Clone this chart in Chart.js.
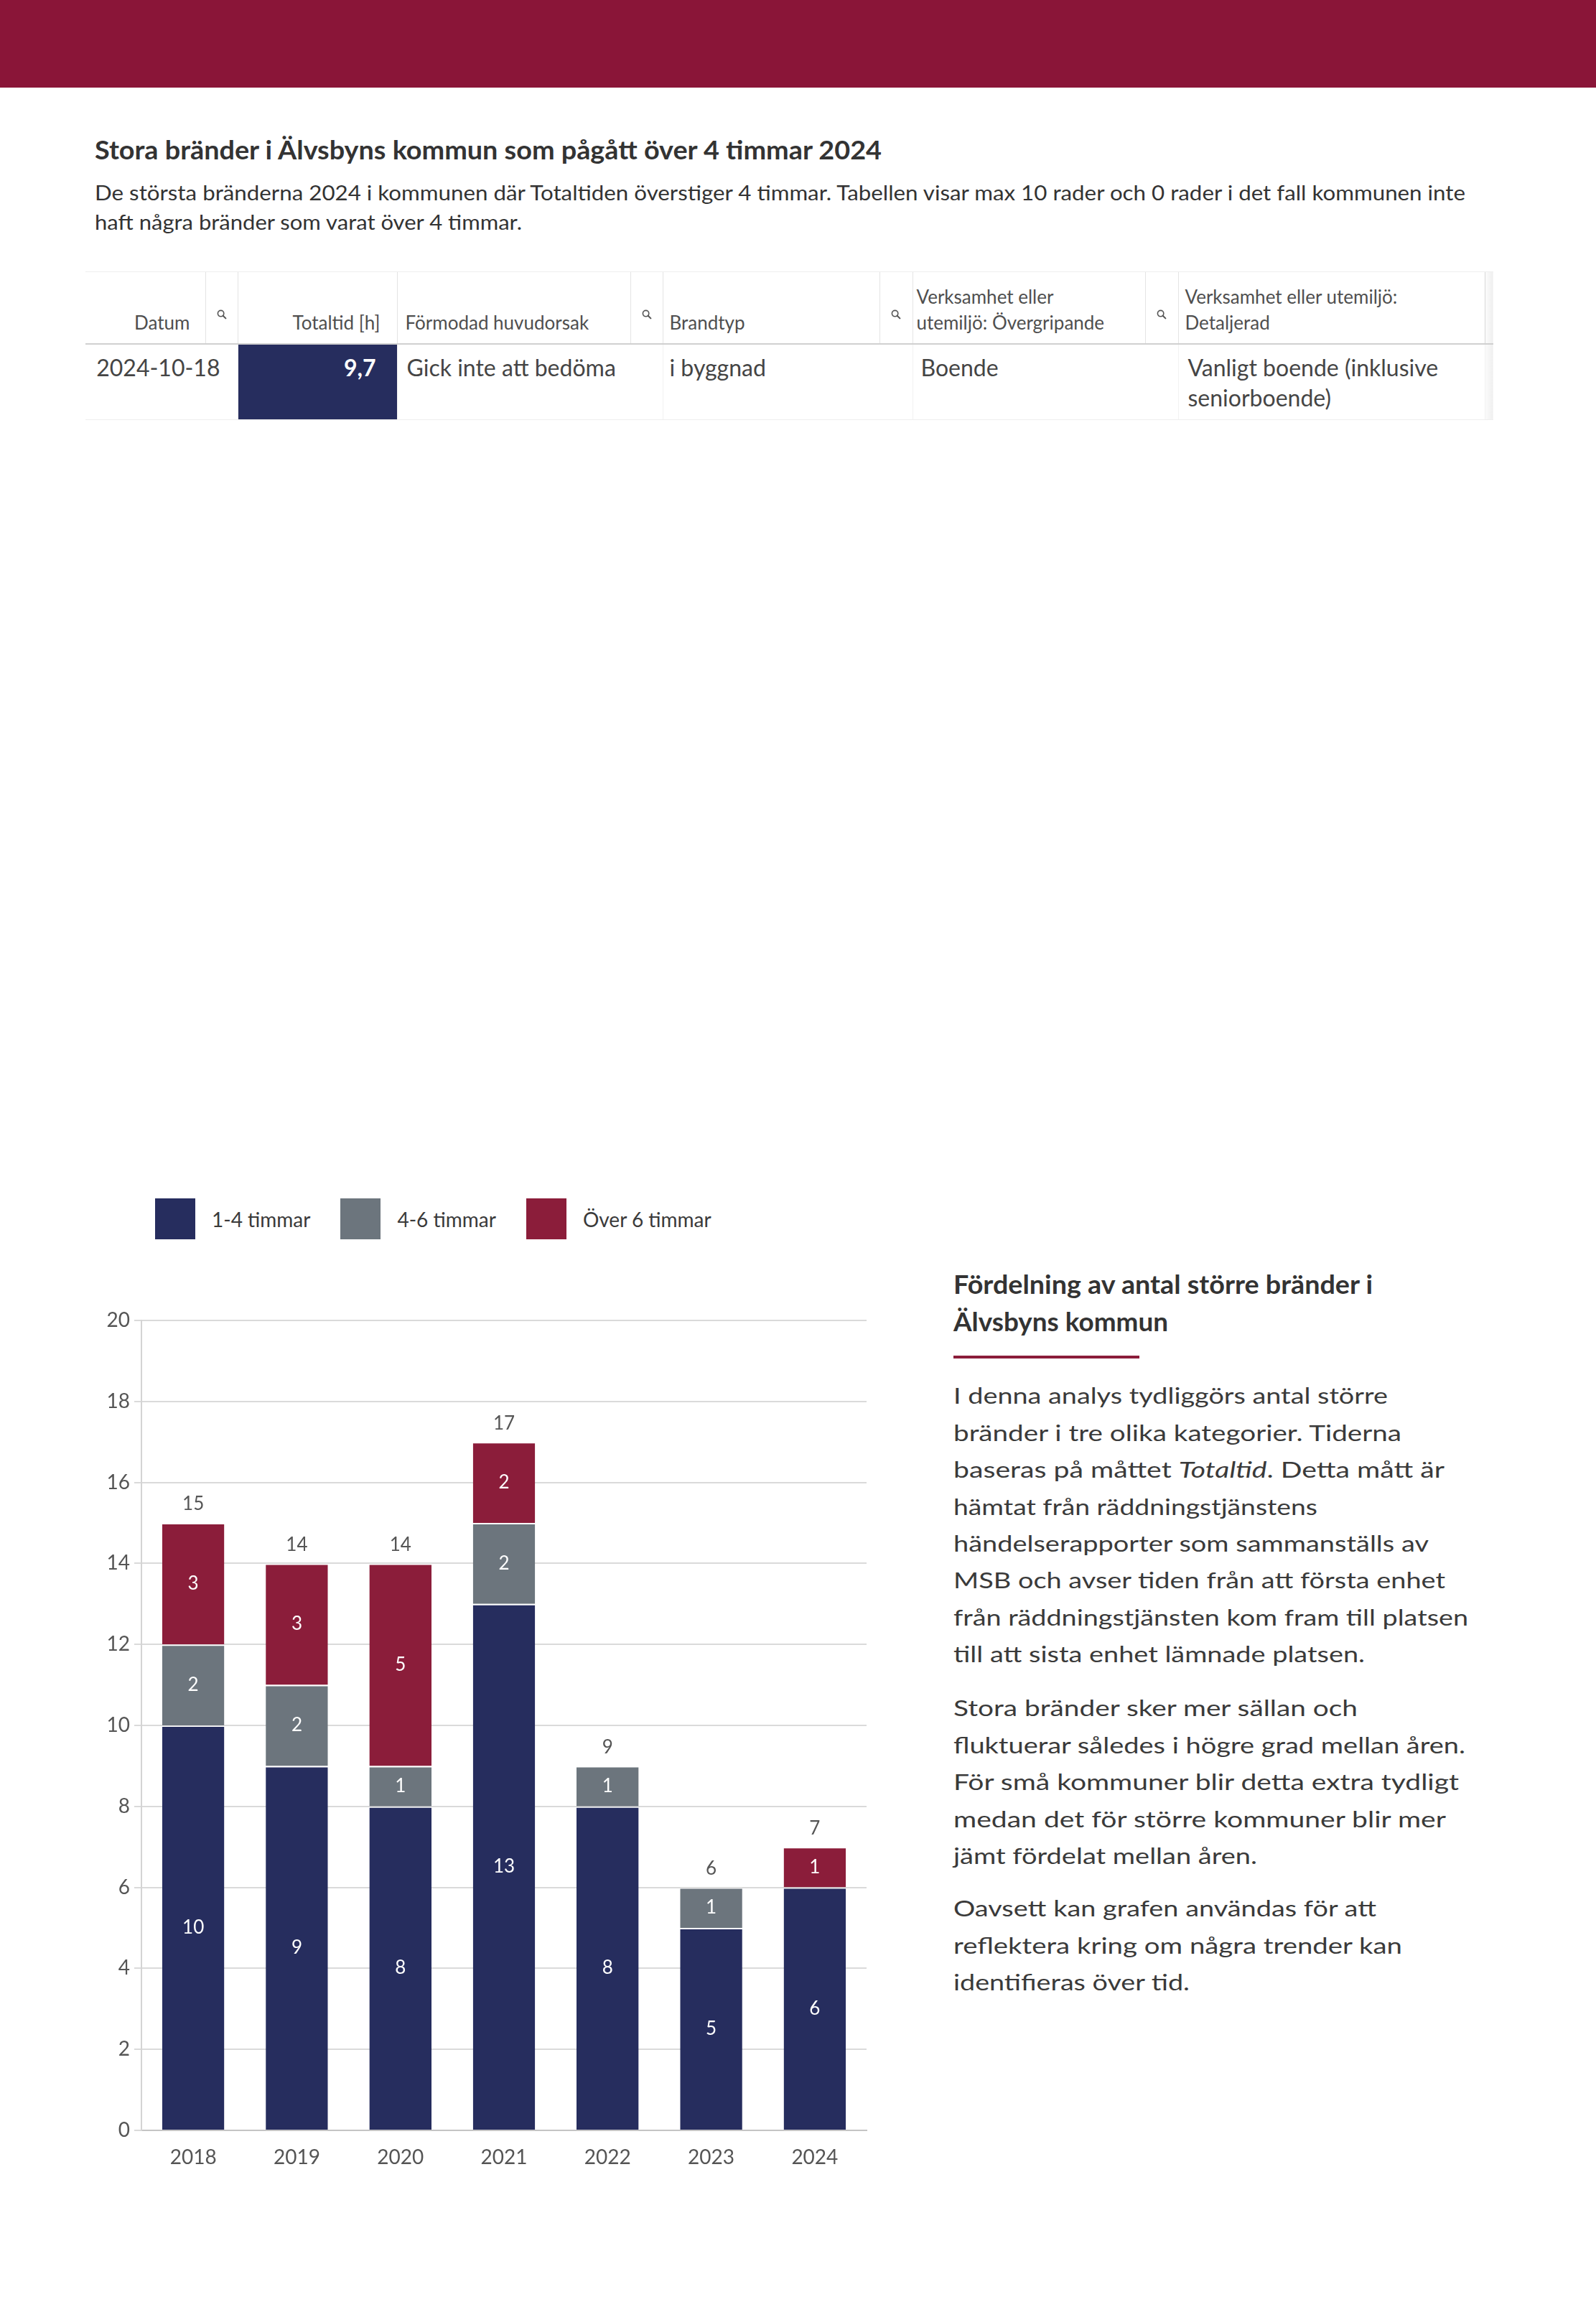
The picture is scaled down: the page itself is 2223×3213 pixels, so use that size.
<!DOCTYPE html>
<html lang="sv">
<head>
<meta charset="utf-8">
<title>Stora bränder i Älvsbyns kommun</title>
<script src="https://cdn.jsdelivr.net/npm/chart.js@4.4.1/dist/chart.umd.min.js"></script>
<style>
  html, body { margin: 0; padding: 0; background: #fff; }
  body {
    width: 2223px; height: 3213px; position: relative; overflow: hidden;
    font-family: Lato, 'Noto Sans', sans-serif; color: #3a3a3a;
  }
  .band { position: absolute; left: 0; top: 0; width: 2223px; height: 122px; background: #8a1538; }
  .ln { position: absolute; white-space: nowrap; line-height: 1.2; transform-origin: 0 0; }

  /* ── Table ─────────────────────────────── */
  .tbl {
    position: absolute; left: 119px; top: 378px; width: 1961px;
    border-collapse: collapse; table-layout: fixed;
  }
  .tbl th, .tbl td { box-sizing: border-box; }
  .tbl th {
    height: 100px; padding: 0 9px 11px; font-weight: 400; font-size: 26px; line-height: 36px;
    color: #4f4f4f; text-align: left; vertical-align: bottom;
    border-top: 1px solid #eee; border-left: 1px solid #e4e4e4; border-bottom: 2px solid #d0d0d0;
  }
  .tbl th:first-child, .tbl td:first-child { border-left: none; }
  .tbl th.ic { vertical-align: top; padding: 52px 0 0; text-align: center; line-height: 14px; }
  .tbl td {
    height: 106px; padding: 11px 13px 0; font-size: 32px; line-height: 42px; color: #454545;
    vertical-align: top; border-left: 1px solid #f2f2f2; border-bottom: 1px solid #eee;
  }
  .tbl .r { text-align: right; }
  .tbl td.val { background: #262d5e; color: #fff; font-weight: 700; padding-right: 29px; }
  .tbl .sb { padding: 0; background: linear-gradient(to right, #fbfbfb, #efefef); }
  .tbl th.sb { border-left: 1px solid #d8d8d8; }

  /* ── Legend + chart ────────────────────── */
  #legend { position: absolute; left: 216px; top: 1669px; display: flex; align-items: center; }
  .lg-item { display: flex; align-items: center; margin-right: 42px; }
  .lg-box { width: 56px; height: 57px; margin-right: 23px; }
  .lg-txt { font-size: 28px; color: #3a3a3a; white-space: nowrap; }
  #chartbox { position: absolute; left: 100px; top: 1800px; width: 1130px; height: 1240px; }

  .rule { position: absolute; left: 1328px; top: 1888px; width: 259px; height: 4px; background: #8b1d3a; }
</style>
</head>
<body>
<div class="band"></div>

<table class="tbl" id="tbl">
  <colgroup>
    <col style="width:167px"><col style="width:45px"><col style="width:222px"><col style="width:325px">
    <col style="width:45px"><col style="width:302px"><col style="width:46px"><col style="width:324px">
    <col style="width:46px"><col style="width:427px"><col style="width:12px">
  </colgroup>
  <thead>
    <tr>
      <th class="r" style="padding-right:21px">Datum</th><th class="ic"></th>
      <th class="r" style="padding-right:23px">Totaltid [h]</th>
      <th style="padding-left:11px">Förmodad huvudorsak</th><th class="ic"></th>
      <th>Brandtyp</th><th class="ic"></th>
      <th style="padding-left:5px">Verksamhet eller<br>utemiljö: Övergripande</th><th class="ic"></th>
      <th>Verksamhet eller utemiljö:<br>Detaljerad</th>
      <th class="sb"></th>
    </tr>
  </thead>
  <tbody>
    <tr>
      <td colspan="2" class="r" style="padding-right:24px">2024-10-18</td>
      <td class="r val">9,7</td>
      <td colspan="2">Gick inte att bedöma</td>
      <td colspan="2" style="padding-left:9px">i byggnad</td>
      <td colspan="2" style="padding-left:11px">Boende</td>
      <td>Vanligt boende (inklusive<br>seniorboende)</td>
      <td class="sb"></td>
    </tr>
  </tbody>
</table>

<div id="legend"></div>
<div id="chartbox"><canvas id="chart-brander"></canvas></div>
<div class="rule"></div>

<script>
/* ── Data ─────────────────────────────────────────────── */
const YEARS         = ['2018', '2019', '2020', '2021', '2022', '2023', '2024'];
const H_1_4         = [10, 9, 8, 13, 8, 5, 6];
const H_4_6         = [2, 2, 1, 2, 1, 1, 0];
const H_OVER_6      = [3, 3, 5, 2, 0, 0, 1];
const SERIES_LABELS = ['1-4 timmar', '4-6 timmar', 'Över 6 timmar'];
const SERIES_COLORS = ['#262d5e', '#6c757d', '#8b1d3a'];
const Y_MIN = 0, Y_MAX = 20, Y_STEP = 2;

/* ── Static texts (html, x, baseline, size, weight, target width) ── */
const HEAD_LINES = [
  ['Stora bränder i Älvsbyns kommun som pågått över 4 timmar 2024', 132, 223, 36, 700, 1096],
  ['De största bränderna 2024 i kommunen där Totaltiden överstiger 4 timmar. Tabellen visar max 10 rader och 0 rader i det fall kommunen inte', 132, 280, 28, 400, 1909],
  ['haft några bränder som varat över 4 timmar.', 132, 321, 28, 400, 595],
  ['Fördelning av antal större bränder i', 1328, 1803, 37, 700, 584],
  ['Älvsbyns kommun', 1328, 1855, 37, 700, 299],
];

const BODY_STEP = 51.4;
const BODY_PARAS = [
  { start: 1956, lines: [
    ['I denna analys tydliggörs antal större', 605],
    ['bränder i tre olika kategorier. Tiderna', 624],
    ['baseras på måttet <i>Totaltid</i>. Detta mått är', 684],
    ['hämtat från räddningstjänstens', 507],
    ['händelserapporter som sammanställs av', 662],
    ['MSB och avser tiden från att första enhet', 685],
    ['från räddningstjänsten kom fram till platsen', 717],
    ['till att sista enhet lämnade platsen.', 573],
  ]},
  { start: 2391, lines: [
    ['Stora bränder sker mer sällan och', 563],
    ['fluktuerar således i högre grad mellan åren.', 713],
    ['För små kommuner blir detta extra tydligt', 704],
    ['medan det för större kommuner blir mer', 686],
    ['jämt fördelat mellan åren.', 423],
  ]},
  { start: 2670, lines: [
    ['Oavsett kan grafen användas för att', 589],
    ['reflektera kring om några trender kan', 625],
    ['identifieras över tid.', 329],
  ]},
];

function addLine(html, x, baseline, size, weight, width, color) {
  const el = document.createElement('div');
  el.className = 'ln';
  el.innerHTML = html;
  el.style.left = x + 'px';
  el.style.top = (baseline - 0.987 * size) + 'px';
  el.style.fontSize = size + 'px';
  el.style.fontWeight = weight;
  el.style.color = color;
  el.dataset.w = width;
  document.body.appendChild(el);
}

HEAD_LINES.forEach(l => addLine(l[0], l[1], l[2], l[3], l[4], l[5], '#333'));
BODY_PARAS.forEach(p => {
  p.lines.forEach((l, i) => addLine(l[0], 1328, p.start + i * BODY_STEP, 31, 400, l[1], '#3a3a3a'));
});

function fitLines() {
  document.querySelectorAll('.ln').forEach(el => {
    el.style.transform = '';
    const w = el.getBoundingClientRect().width;
    const target = parseFloat(el.dataset.w);
    if (w > 0 && target) el.style.transform = `scaleX(${target / w})`;
  });
}

/* ── Table search icons ───────────────────────────────── */
const ICON = '<svg width="14" height="14" viewBox="0 0 14 14" style="display:block;margin:0 auto">' +
  '<circle cx="5.6" cy="5.6" r="4.2" fill="none" stroke="#555" stroke-width="1.6"/>' +
  '<line x1="8.7" y1="8.7" x2="12.4" y2="12.4" stroke="#555" stroke-width="2" stroke-linecap="round"/></svg>';
document.querySelectorAll('#tbl th.ic').forEach(th => { th.innerHTML = ICON; });

/* ── Legend ───────────────────────────────────────────── */
document.getElementById('legend').innerHTML = SERIES_LABELS.map((lab, i) => `
  <div class="lg-item">
    <span class="lg-box" style="background:${SERIES_COLORS[i]}"></span>
    <span class="lg-txt">${lab}</span>
  </div>`).join('');

/* ── Chart ────────────────────────────────────────────── */
const SERIES = [H_1_4, H_4_6, H_OVER_6];
const TOTALS = YEARS.map((_, i) => SERIES.reduce((s, arr) => s + arr[i], 0));

const barLabels = {
  id: 'barLabels',
  afterDatasetsDraw(chart) {
    const ctx = chart.ctx;
    ctx.save();
    ctx.font = '26px Lato, "Noto Sans", sans-serif';
    ctx.textAlign = 'center';
    ctx.textBaseline = 'middle';
    chart.data.datasets.forEach((ds, di) => {
      chart.getDatasetMeta(di).data.forEach((bar, i) => {
        const v = ds.data[i];
        if (!v) return;
        ctx.fillStyle = '#fff';
        ctx.fillText(String(v), bar.x, (bar.y + bar.base) / 2);
      });
    });
    const yScale = chart.scales.y;
    const first = chart.getDatasetMeta(0).data;
    TOTALS.forEach((t, i) => {
      ctx.fillStyle = '#555';
      ctx.fillText(String(t), first[i].x, yScale.getPixelForValue(t) - 26);
    });
    ctx.restore();
  },
};

new Chart(document.getElementById('chart-brander'), {
  type: 'bar',
  data: {
    labels: YEARS,
    datasets: SERIES.map((arr, i) => ({
      label: SERIES_LABELS[i],
      data: arr,
      backgroundColor: SERIES_COLORS[i],
      borderColor: 'rgba(255,255,255,0.3)',
      borderWidth: { top: 2, left: 0, right: 0, bottom: 0 },
      borderSkipped: 'start',
      categoryPercentage: 1,
      barPercentage: 0.6,
    })),
  },
  options: {
    responsive: true,
    maintainAspectRatio: false,
    animation: false,
    layout: { padding: { top: 39, right: 23, left: 0, bottom: 0 } },
    plugins: { legend: { display: false }, tooltip: { enabled: false } },
    scales: {
      x: {
        stacked: true,
        grid: { display: false, drawTicks: false, tickLength: 0 },
        border: { display: true, color: '#c4c4c4', width: 2 },
        ticks: { color: '#555', font: { family: 'Lato', size: 28 }, padding: 21 },
        afterFit: s => { s.height = 73; },
      },
      y: {
        stacked: true,
        min: Y_MIN, max: Y_MAX,
        grid: { color: '#dadada', lineWidth: 2, tickLength: 10, drawTicks: true },
        border: { display: true, color: '#d4d4d4', width: 2 },
        ticks: { stepSize: Y_STEP, color: '#555', font: { family: 'Lato', size: 28 }, padding: 6 },
        afterFit: s => { s.width = 97; },
      },
    },
  },
  plugins: [barLabels],
});

fitLines();
if (document.fonts && document.fonts.ready) document.fonts.ready.then(fitLines);
</script>
</body>
</html>
